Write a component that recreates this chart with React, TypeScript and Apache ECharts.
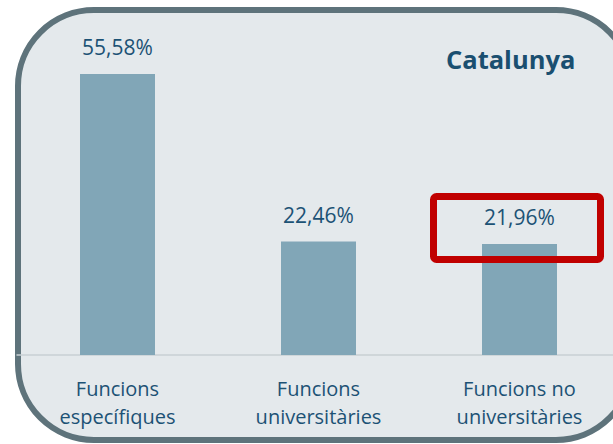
import React, { useEffect, useRef } from "react";
import * as echarts from "echarts";

const categories = ["Funcions\nespecífiques", "Funcions\nuniversitàries", "Funcions no\nuniversitàries"];
const values = [55.58, 22.46, 21.96];
const valueLabels = ["55,58%", "22,46%", "21,96%"];
const titleText = "Catalunya";

const FONT = "'Open Sans', 'Noto Sans', sans-serif";
const TEXT = "#1c5275";

export default function App() {
  const ref = useRef<HTMLDivElement>(null);
  useEffect(() => {
    if (!ref.current) return;
    const chart = echarts.init(ref.current, undefined, { renderer: "svg" });
    chart.setOption({
      animation: false,
      backgroundColor: "#ffffff",
      title: {
        text: titleText,
        left: 446,
        top: 46,
        padding: 0,
        textStyle: { fontFamily: FONT, fontSize: 25.5, fontWeight: "bold", color: "#1a4f70" },
        z: 20,
      },
      grid: { left: 17, width: 603, top: 51.6, height: 303.4 },
      xAxis: {
        type: "category",
        data: categories,
        axisLine: { show: true, lineStyle: { color: "#c8cfd3", width: 1.5 } },
        axisTick: { show: false },
        axisLabel: {
          margin: 19,
          fontFamily: FONT,
          fontSize: 20,
          lineHeight: 28,
          color: TEXT,
          interval: 0,
        },
      },
      yAxis: { type: "value", min: 0, max: 60, show: false, splitLine: { show: false } },
      series: [
        {
          type: "bar",
          data: values,
          barWidth: 75,
          itemStyle: { color: "#81a6b7" },
          label: {
            show: true,
            position: "top",
            distance: 16,
            fontFamily: FONT,
            fontSize: 21,
            color: TEXT,
            formatter: (p: any) => valueLabels[p.dataIndex],
          },
          z: 5,
        },
      ],
      graphic: [
        {
          type: "rect",
          z: -10,
          silent: true,
          shape: { x: 18, y: 10, width: 614, height: 430, r: 76 },
          style: { fill: "#e4e9ec", stroke: "#5e737b", lineWidth: 6 },
        },
        {
          type: "rect",
          z: 100,
          silent: true,
          shape: { x: 433.5, y: 196.5, width: 167, height: 63, r: 3 },
          style: { fill: "none", stroke: "#c00000", lineWidth: 7 },
        },
      ],
    });
    return () => chart.dispose();
  }, []);
  return (
    <div
      ref={ref}
      style={{ position: "fixed", left: 0, top: 0, width: 700, height: 444 }}
    />
  );
}
